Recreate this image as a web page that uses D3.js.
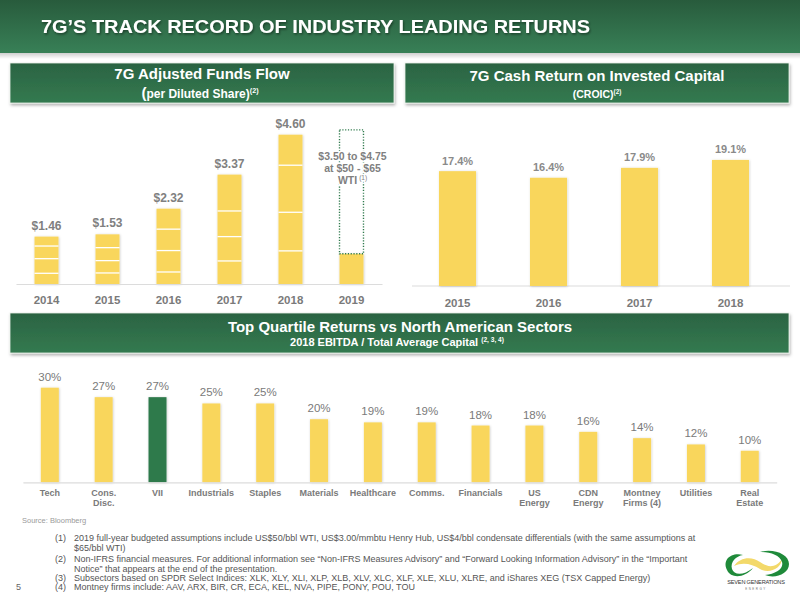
<!DOCTYPE html>
<html><head><meta charset="utf-8">
<script src="https://cdn.jsdelivr.net/npm/d3@7"></script>
<style>
body{margin:0;background:#fff}
svg{display:block}
text{font-family:"Liberation Sans",Arial,Helvetica,sans-serif}
</style>
</head><body>
<svg id="c" width="800" height="600"></svg>
<script>
// ---------- DATA ----------
const affYears = ["2014","2015","2016","2017","2018","2019"];
const affQuarters = [
  [0.33,0.45,0.39,0.29],
  [0.34,0.38,0.40,0.41],
  [0.37,0.66,0.66,0.63],
  [0.71,0.75,0.79,1.12],
  [1.02,1.19,1.45,0.94],
  [0.93]
];
const affLabels = ["$1.46","$1.53","$2.32","$3.37","$4.60",""];
const guidanceYear = "2019";
const guidanceHigh = 4.75;
const guidanceText = ["$3.50 to $4.75","at $50 - $65","WTI"];

const croicYears = ["2015","2016","2017","2018"];
const croicValues = [17.4,16.4,17.9,19.1];

const sectorNames = ["Tech","Cons.\nDisc.","VII","Industrials","Staples","Materials","Healthcare","Comms.","Financials","US\nEnergy","CDN\nEnergy","Montney\nFirms (4)","Utilities","Real\nEstate"];
const sectorValues = [30,27,27,25,25,20,19,19,18,18,16,14,12,10];
const highlightSector = "VII";

const footnotes = [
  ["(1)","2019 full-year budgeted assumptions include US$50/bbl WTI, US$3.00/mmbtu Henry Hub, US$4/bbl condensate differentials (with the same assumptions at"],
  ["","$65/bbl WTI)"],
  ["(2)","Non-IFRS financial measures. For additional information see “Non-IFRS Measures Advisory” and “Forward Looking Information Advisory” in the “Important"],
  ["","Notice” that appears at the end of the presentation."],
  ["(3)","Subsectors based on SPDR Select Indices: XLK, XLY, XLI, XLP, XLB, XLV, XLC, XLF, XLE, XLU, XLRE, and iShares XEG (TSX Capped Energy)"],
  ["(4)","Montney firms include: AAV, ARX, BIR, CR, ECA, KEL, NVA, PIPE, PONY, POU, TOU"]
];

// ---------- STYLE ----------
const YELLOW = "#f9d65c", GREEN = "#2f7a4c", GREY = "#808080";

const svg = d3.select("#c");
const defs = svg.append("defs");
const hg = defs.append("linearGradient").attr("id","hdr").attr("x1",0).attr("y1",0).attr("x2",0).attr("y2",1);
hg.append("stop").attr("offset","0%").attr("stop-color","#285b3c");
hg.append("stop").attr("offset","100%").attr("stop-color","#388057");
const pg = defs.append("linearGradient").attr("id","pnl").attr("x1",0).attr("y1",0).attr("x2",0).attr("y2",1);
pg.append("stop").attr("offset","0%").attr("stop-color","#2b6342");
pg.append("stop").attr("offset","100%").attr("stop-color","#337a50");
const sg = defs.append("linearGradient").attr("id","shd").attr("x1",0).attr("y1",0).attr("x2",0).attr("y2",1);
sg.append("stop").attr("offset","0%").attr("stop-color","#cfcfcf");
sg.append("stop").attr("offset","100%").attr("stop-color","#ffffff");
const f1 = defs.append("filter").attr("id","ds").attr("x","-20%").attr("y","-20%").attr("width","140%").attr("height","160%");
f1.append("feDropShadow").attr("dx",1).attr("dy",2).attr("stdDeviation",1.5).attr("flood-color","#000").attr("flood-opacity",0.3);
const f2 = defs.append("filter").attr("id","bs").attr("x","-30%").attr("y","-10%").attr("width","160%").attr("height","120%");
f2.append("feDropShadow").attr("dx",0.5).attr("dy",0.5).attr("stdDeviation",1).attr("flood-color","#000").attr("flood-opacity",0.22);
const f3 = defs.append("filter").attr("id","ts");
f3.append("feDropShadow").attr("dx",1).attr("dy",1.5).attr("stdDeviation",1).attr("flood-color","#000").attr("flood-opacity",0.45);

// ---------- HEADER ----------
svg.append("rect").attr("x",0).attr("y",53).attr("width",800).attr("height",6).attr("fill","url(#shd)");
svg.append("rect").attr("x",0).attr("y",0).attr("width",800).attr("height",53).attr("fill","url(#hdr)");
svg.append("text").attr("x",41).attr("y",33).attr("fill","#fff").attr("font-size",18).attr("font-weight","bold")
  .attr("filter","url(#ts)").attr("textLength",549).attr("lengthAdjust","spacingAndGlyphs")
  .text("7G’S TRACK RECORD OF INDUSTRY LEADING RETURNS");

// ---------- PANEL HEADERS ----------
function panel(x,y,w,h){
  svg.append("rect").attr("x",x).attr("y",y).attr("width",w).attr("height",h)
    .attr("fill","url(#pnl)").attr("stroke","#e9efe9").attr("stroke-width",0.8).attr("filter","url(#ds)");
}
function titleText(x,y,size,main,sup,bigParen){
  const t = svg.append("text").attr("x",x).attr("y",y).attr("fill","#fff").attr("font-weight","bold")
    .attr("font-size",size).attr("text-anchor","middle");
  if(bigParen){
    t.append("tspan").attr("font-size",size*1.25).text(main[0]);
    t.append("tspan").text(main.slice(1));
  } else t.append("tspan").text(main);
  if(sup){ t.append("tspan").attr("font-size",size*0.6).attr("dy",-size*0.38).text(sup); }
  return t;
}
panel(10,63,384,40);
titleText(202,79,15,"7G Adjusted Funds Flow");
titleText(200,97.5,12,"(per Diluted Share)","(2)",true);
panel(405,63,384,40);
titleText(597,81,15,"7G Cash Return on Invested Capital");
titleText(597,97.5,10.5,"(CROIC)","(2)");
panel(10,313,779,40);
titleText(400,331.5,15,"Top Quartile Returns vs North American Sectors");
titleText(397,346,11,"2018 EBITDA / Total Average Capital ","(2, 3, 4)");

// ---------- CHART 1: AFF ----------
const x1 = d3.scaleBand().domain(affYears).range([16,382]).paddingInner(0.607).paddingOuter(0.3035);
const y1 = d3.scaleLinear().domain([0,4.6]).range([284,134.7]);
const g1 = svg.append("g");
const segs = [];
affYears.forEach((yr,i)=>{
  let acc = 0;
  affQuarters[i].forEach((v,q)=>{ segs.push({yr, q, y0:acc, y1:acc+v, last:q===affQuarters[i].length-1}); acc+=v; });
});
const barG1 = g1.append("g").attr("filter","url(#bs)");
barG1.selectAll("rect").data(segs).join("rect")
  .attr("x",d=>x1(d.yr)).attr("width",x1.bandwidth())
  .attr("y",d=>y1(d.y1)).attr("height",d=>y1(d.y0)-y1(d.y1))
  .attr("fill",YELLOW);
g1.selectAll("line.sep").data(segs.filter(d=>!d.last)).join("line").attr("class","sep")
  .attr("x1",d=>x1(d.yr)).attr("x2",d=>x1(d.yr)+x1.bandwidth())
  .attr("y1",d=>y1(d.y1)).attr("y2",d=>y1(d.y1))
  .attr("stroke","#fff").attr("stroke-width",1.3);
// guidance box
const gLow = d3.sum(affQuarters[affYears.indexOf(guidanceYear)]);
g1.append("rect").attr("x",x1(guidanceYear)).attr("width",x1.bandwidth())
  .attr("y",y1(guidanceHigh)).attr("height",y1(gLow)-y1(guidanceHigh))
  .attr("fill","none").attr("stroke","#2f7a4c").attr("stroke-width",1.4).attr("stroke-dasharray","1.2,1.6");
const gt = g1.append("g").attr("font-size",10.5).attr("font-weight","bold").attr("fill",GREY).attr("text-anchor","middle")
  .attr("stroke","#fff").attr("stroke-width",3).attr("paint-order","stroke").attr("stroke-linejoin","round");
guidanceText.forEach((s,i)=>{
  const t = gt.append("text").attr("x",x1(guidanceYear)+x1.bandwidth()/2+1).attr("y",160+i*12.2);
  t.append("tspan").text(s);
  if(i===2){ t.append("tspan").attr("font-size",6.5).attr("dy",-4).attr("dx",2).attr("font-weight","normal").text("(1)"); }
});
// value labels
g1.selectAll("text.val").data(affYears.map((yr,i)=>({yr,v:d3.sum(affQuarters[i]),l:affLabels[i]})).filter(d=>d.l))
  .join("text").attr("class","val")
  .attr("x",d=>x1(d.yr)+x1.bandwidth()/2).attr("y",d=>y1(d.v)-7)
  .attr("text-anchor","middle").attr("font-size",12).attr("font-weight","bold").attr("fill",GREY).text(d=>d.l);
// axis
const ax1 = g1.append("g").attr("transform","translate(0,284)").call(d3.axisBottom(x1).tickSize(0).tickSizeOuter(0).tickPadding(12));
ax1.select(".domain").attr("stroke","#dcdcdc").attr("stroke-width",1.2);
ax1.selectAll("text").attr("font-size",11.5).attr("font-weight","bold").attr("fill","#7a7a7a")
  .attr("font-family","Liberation Sans, Arial, sans-serif");

// ---------- CHART 2: CROIC ----------
const x2 = d3.scaleBand().domain(croicYears).range([412,776]).paddingInner(0.593).paddingOuter(0.2965);
const y2 = d3.scaleLinear().domain([0,20]).range([286,154]);
const g2 = svg.append("g");
g2.append("line").attr("x1",x2.range()[0]).attr("x2",790).attr("y1",286).attr("y2",286).attr("stroke","#dcdcdc").attr("stroke-width",1.2);
g2.append("g").attr("filter","url(#bs)").selectAll("rect").data(croicYears).join("rect")
  .attr("x",d=>x2(d)).attr("width",x2.bandwidth())
  .attr("y",(d,i)=>y2(croicValues[i])).attr("height",(d,i)=>y2(0)-y2(croicValues[i]))
  .attr("fill",YELLOW);
g2.selectAll("text.val").data(croicYears).join("text").attr("class","val")
  .attr("x",d=>x2(d)+x2.bandwidth()/2).attr("y",(d,i)=>y2(croicValues[i])-6.5)
  .attr("text-anchor","middle").attr("font-size",11).attr("fill","#8a8a8a").attr("font-weight","bold")
  .text((d,i)=>croicValues[i].toFixed(1)+"%");
const ax2 = g2.append("g").attr("transform","translate(0,286)").call(d3.axisBottom(x2).tickSize(0).tickSizeOuter(0).tickPadding(13));
ax2.select(".domain").remove();
ax2.selectAll("text").attr("font-size",11.5).attr("font-weight","bold").attr("fill","#7a7a7a")
  .attr("font-family","Liberation Sans, Arial, sans-serif");

// ---------- CHART 3: SECTORS ----------
const x3 = d3.scaleBand().domain(sectorNames).range([22.9,776.7]).paddingInner(0.666).paddingOuter(0.333);
const y3 = d3.scaleLinear().domain([0,30]).range([482.3,387.7]);
const g3 = svg.append("g");
g3.append("g").attr("filter","url(#bs)").selectAll("rect").data(sectorNames).join("rect")
  .attr("x",d=>x3(d)).attr("width",x3.bandwidth())
  .attr("y",(d,i)=>y3(sectorValues[i])).attr("height",(d,i)=>y3(0)-y3(sectorValues[i]))
  .attr("fill",d=>d===highlightSector?GREEN:YELLOW);
g3.selectAll("text.val").data(sectorNames).join("text").attr("class","val")
  .attr("x",d=>x3(d)+x3.bandwidth()/2).attr("y",(d,i)=>y3(sectorValues[i])-7)
  .attr("text-anchor","middle").attr("font-size",11.5).attr("fill","#7a7a7a")
  .text((d,i)=>sectorValues[i]+"%");
const ax3 = g3.append("g").attr("transform","translate(0,482.3)").call(d3.axisBottom(x3).tickSize(0).tickSizeOuter(0).tickFormat(()=>""));
ax3.select(".domain").attr("stroke","#dcdcdc").attr("stroke-width",1.2);
ax3.selectAll(".tick text").remove();
ax3.selectAll(".tick").each(function(d){
  const t = d3.select(this).append("text").attr("text-anchor","middle").attr("font-size",9).attr("font-weight","bold")
    .attr("fill","#7a7a7a").attr("y",14);
  d.split("\n").forEach((s,i)=>t.append("tspan").attr("x",0).attr("dy",i?10:0).text(s));
});

// ---------- SOURCE / FOOTNOTES ----------
svg.append("text").attr("x",22).attr("y",523).attr("font-size",7.5).attr("fill","#9a9a9a").text("Source: Bloomberg");
const fnY = [541,551,562,572,581,590];
const fg = svg.append("g").attr("font-size",9).attr("fill","#555")
  .attr("font-family","Liberation Sans Narrow, Arial Narrow, Liberation Sans, sans-serif");
footnotes.forEach((f,i)=>{
  if(f[0]) fg.append("text").attr("x",55).attr("y",fnY[i]).text(f[0]);
  fg.append("text").attr("x",74).attr("y",fnY[i]).text(f[1]);
});
svg.append("text").attr("x",16).attr("y",590).attr("font-size",9).attr("fill","#666").text("5");

// ---------- LOGO ----------
const lg = svg.append("g").attr("transform","translate(722,548)");
lg.append("path").attr("fill","#f3d96a")
  .attr("d","M12,18 C18,9 30,8 38,14 C46,20 54,20 60,11 C59,21 47,26 38,21 C30,16 21,14 12,18 Z");
lg.append("path").attr("fill","#1f8a3a")
  .attr("d","M5,22 C0,12 9,4 21,7 C14,8 8,14 10,21 C12,27 21,28 31,20 C23,30 9,31 5,22 Z");
lg.append("path").attr("fill","#1f8a3a")
  .attr("d","M38,4 C51,0 67,6 67,16 C67,26 53,31 43,27 C54,26 62,21 60,14 C58,7 48,4 38,4 Z");
lg.append("text").attr("x",34).attr("y",36).attr("text-anchor","middle").attr("font-size",5.6).attr("fill","#333")
  .attr("letter-spacing",-0.2).text("SEVEN GENERATIONS");
lg.append("text").attr("x",34).attr("y",42).attr("text-anchor","middle").attr("font-size",3).attr("fill","#777")
  .attr("letter-spacing",1.5).text("ENERGY");
</script>
</body></html>
